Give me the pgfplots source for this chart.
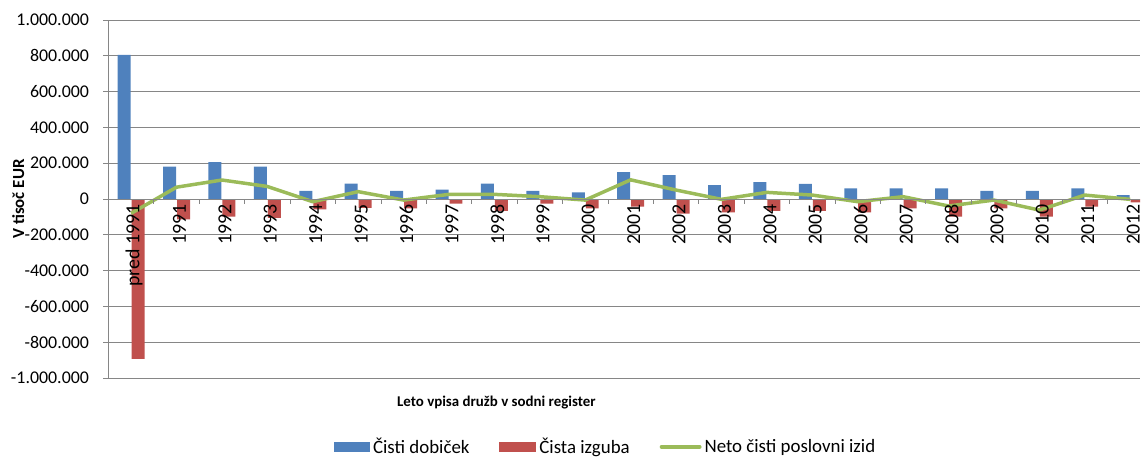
\documentclass[border=0pt]{standalone}
\usepackage{pgfplots}
\pgfplotsset{compat=1.18}
\usepackage{fontspec}
\setmainfont{Carlito}
\definecolor{cblue}{HTML}{4F81BD}
\definecolor{cred}{HTML}{C0504D}
\definecolor{cgreen}{HTML}{9BBB59}
\definecolor{cgrid}{RGB}{134,134,134}
\pgfplotsset{
  layers/mylayers/.define layer set={axis background,axis grid,pre main,main,axis ticks,axis lines,axis tick labels,axis descriptions,axis foreground}{/pgfplots/layers/standard},
}
\pgfplotstableread{
x blue red net
0 805000 -893000 -80000
1 181000 -114000 66000
2 206000 -99000 106000
3 181000 -105000 70000
4 45000 -58000 -15000
5 86000 -50000 41000
6 45000 -52000 -6000
7 52000 -26000 26000
8 86000 -67000 26000
9 45000 -26000 13000
10 37000 -52000 -6000
11 150000 -43000 107000
12 133000 -82000 50000
13 78000 -75000 -2000
14 94000 -67000 37000
15 84000 -67000 22000
16 60000 -75000 -15000
17 60000 -52000 13000
18 60000 -99000 -39000
19 45000 -52000 -6000
20 45000 -99000 -62000
21 60000 -43000 22000
22 22000 -19000 -2000
}\data
\begin{document}
\begin{tikzpicture}
\path (0,0) rectangle (1143bp,457bp);
\begin{axis}[
  set layers=mylayers,
  at={(108.7bp,78bp)}, anchor=south west,
  scale only axis, width=1034.3bp, height=359bp,
  xmin=-0.5, xmax=22.22, ymin=-1000000, ymax=1000000,
  scaled y ticks=false,
  axis x line*=middle, axis y line*=left,
  axis line style={cgrid, line width=0.8bp},
  ymajorgrids, grid style={cgrid, line width=0.8bp},
  ytick={-1000000,-800000,-600000,-400000,-200000,0,200000,400000,600000,800000,1000000},
  yticklabels={-1.000.000,-800.000,-600.000,-400.000,-200.000,0,200.000,400.000,600.000,800.000,1.000.000},
  xtick={0,...,22},
  xticklabels={pred 1991,1991,1992,1993,1994,1995,1996,1997,1998,1999,2000,2001,2002,2003,2004,2005,2006,2007,2008,2009,2010,2011,2012},
  minor xtick={0.5,1.5,...,21.5},
  tick align=outside,
  x tick style={draw=none},
  minor x tick style={draw=cgrid, line width=0.8bp},
  minor tick length=5bp,
  y tick style={cgrid, line width=0.8bp},
  major tick length=5bp,
  yticklabel style={font=\fontsize{18}{21}\selectfont, anchor=east, xshift=-11bp},
  xticklabel style={font=\fontsize{20}{23}\selectfont, rotate=90, anchor=east, xshift=3bp, yshift=-3bp},
  xlabel={Leto vpisa družb v sodni register},
  xlabel style={font=\fontsize{15}{18}\selectfont\bfseries, at={(rel axis cs:0.376,-0.067)}, anchor=center},
  ylabel={V tisoč EUR},
  ylabel style={font=\fontsize{17}{20}\selectfont\bfseries, at={(rel axis cs:-0.0875,0.5)}, anchor=center, rotate=0},
  ybar=1bp, bar width=13bp,
  legend columns=3,
  legend style={at={(rel axis cs:0.482,-0.192)}, anchor=center, draw=none, fill=none,
    font=\fontsize{19}{22}\selectfont,
    /tikz/every even column/.append style={column sep=28bp},
    /tikz/every odd column/.append style={column sep=1bp},
    inner sep=0pt},
]
\addplot[fill=cblue, draw=none, legend image code/.code={\fill[cblue] (0bp,-5bp) rectangle (36bp,5bp);}] table[x=x,y=blue]{\data};
\addlegendentry{Čisti dobiček}
\addplot[fill=cred, draw=none, legend image code/.code={\fill[cred] (0bp,-5bp) rectangle (37bp,5bp);}] table[x=x,y=red]{\data};
\addlegendentry{Čista izguba}
\addplot[sharp plot, cgreen, line width=3.5bp, mark=none, bar shift=0pt, legend image code/.code={\draw[cgreen, line width=4bp, line cap=round] (0bp,0bp) -- (38bp,0bp);}] table[x=x,y=net]{\data};
\addlegendentry{Neto čisti poslovni izid}
\end{axis}
\end{tikzpicture}
\end{document}
